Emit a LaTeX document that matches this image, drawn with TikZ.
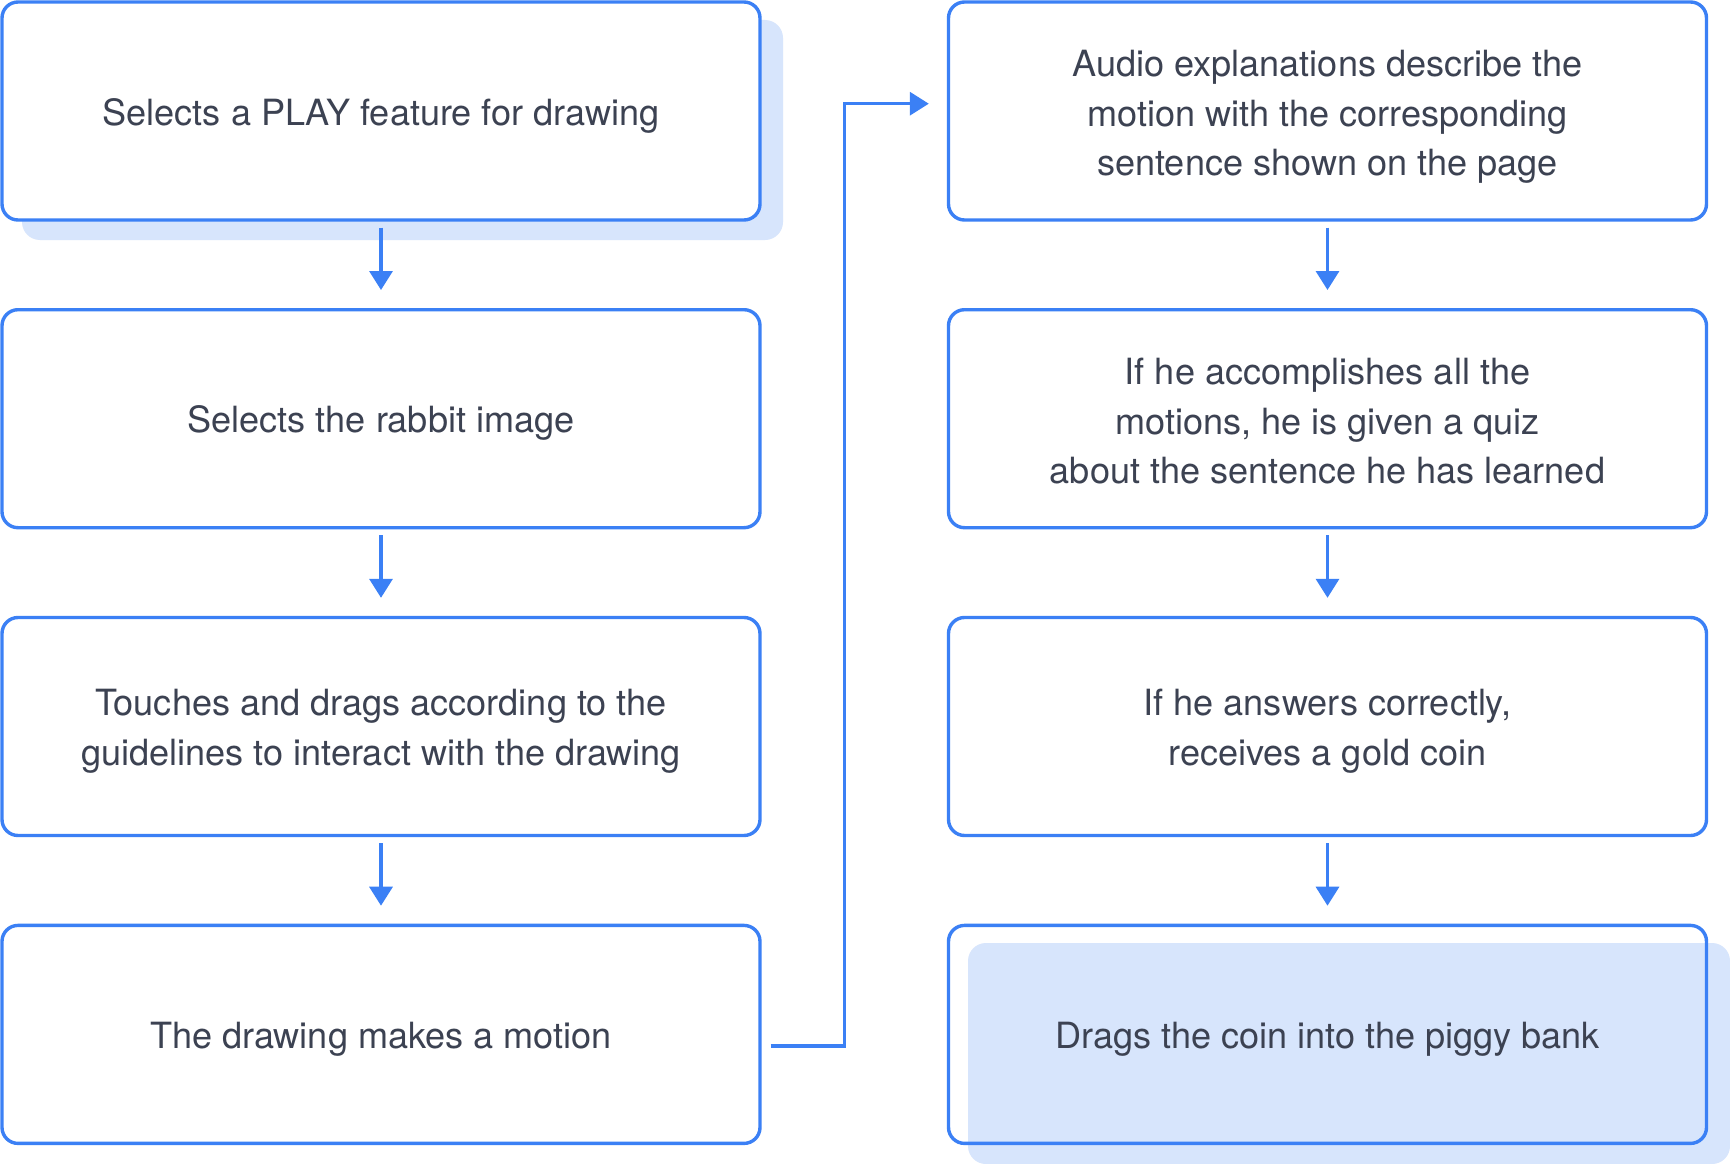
\documentclass[tikz,border=0pt]{standalone}
\usepackage{fontspec}
\setmainfont{TeX Gyre Heros}
\usetikzlibrary{arrows.meta}
\definecolor{bordc}{RGB}{59,128,245}
\definecolor{shadc}{RGB}{215,229,252}
\definecolor{txtc}{RGB}{60,66,82}
\begin{document}
\begin{tikzpicture}[x=1pt,y=-1pt,
  box/.style={draw=bordc, line width=3.4pt, rounded corners=16pt, minimum width=758pt, minimum height=218pt, inner sep=0pt},
  txt/.style={align=center, text=txtc, inner sep=0pt, font=\fontsize{36.1}{49.6}\selectfont},
  arr/.style={draw=bordc, line width=3.3pt, -{Triangle[length=19pt,width=23pt]}},
  shad/.style={fill=shadc, rounded corners=18pt}]
\useasboundingbox (0,0) rectangle (1730,1164);
\fill[white] (0,0) rectangle (1730,1164);
% shadows
\fill[shad] (22,20) rectangle (783,240);
\fill[shad] (968,943) rectangle (1730,1164);
% left column
\node[box, fill=white] (b1) at (381,111) {};
\node[box, fill=white] (b2) at (381,418.7) {};
\node[box, fill=white] (b3) at (381,726.5) {};
\node[box, fill=white] (b4) at (381,1034.4) {};
% right column
\node[box, fill=white] (b5) at (1327.5,111) {};
\node[box, fill=white] (b6) at (1327.5,418.7) {};
\node[box, fill=white] (b7) at (1327.5,726.5) {};
\node[box] (b8) at (1327.5,1034.4) {};
% texts
\node[txt] (t1) at ([yshift=-4.5pt]b1.center) {Selects a PLAY feature for drawing};
\node[txt] (t2) at ([yshift=-4.5pt]b2.center) {Selects the rabbit image};
\node[txt] (t3) at ([yshift=-4.5pt]b3.center) {Touches and drags according to the\\guidelines to interact with the drawing};
\node[txt] (t4) at ([yshift=-4.5pt]b4.center) {The drawing makes a motion};
\node[txt] (t5) at ([yshift=-6pt]b5.center) {Audio explanations describe the\\motion with the corresponding\\sentence shown on the page};
\node[txt] (t6) at ([yshift=-2.5pt]b6.center) {If he accomplishes all the\\motions, he is given a quiz\\about the sentence he has learned};
\node[txt] (t7) at ([yshift=-4.5pt]b7.center) {If he answers correctly,\\receives a gold coin};
\node[txt] (t8) at ([yshift=-4.5pt]b8.center) {Drags the coin into the piggy bank};
% arrows
\draw[arr] ([yshift=-6pt]b1.south) -- ([yshift=18pt]b2.north);
\draw[arr] ([yshift=-6pt]b2.south) -- ([yshift=18pt]b3.north);
\draw[arr] ([yshift=-6pt]b3.south) -- ([yshift=18pt]b4.north);
\draw[arr] ([yshift=-6pt]b5.south) -- ([yshift=18pt]b6.north);
\draw[arr] ([yshift=-6pt]b6.south) -- ([yshift=18pt]b7.north);
\draw[arr] ([yshift=-6pt]b7.south) -- ([yshift=18pt]b8.north);
\draw[arr] ([xshift=9pt,yshift=-11.5pt]b4.east) -- ++(74,0) |- ([xshift=-18pt,yshift=7.3pt]b5.west);
\end{tikzpicture}
\end{document}
